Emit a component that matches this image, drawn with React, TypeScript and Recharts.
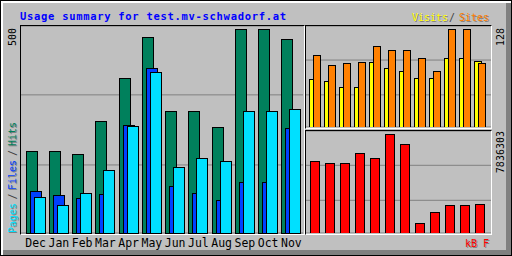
import { BarChart, Bar, XAxis, YAxis, CartesianGrid } from "recharts";

const months = ["Dec", "Jan", "Feb", "Mar", "Apr", "May", "Jun", "Jul", "Aug", "Sep", "Oct", "Nov"];
const hits = [200, 200, 193, 274, 380, 480, 299, 299, 260, 500, 500, 475];
const files = [102, 92, 85, 95, 264, 404, 115, 97, 80, 124, 124, 256];
const pages = [88, 68, 97, 154, 262, 394, 161, 183, 176, 299, 299, 304];
const visits = [62, 60, 52, 51, 84, 77, 73, 63, 64, 89, 89, 85];
const sites = [94, 81, 83, 84, 105, 100, 100, 90, 73, 128, 128, 83];
const kbytes = [5692600, 5533800, 5533800, 6327800, 5930800, 7836303, 7042400, 770100, 1643500, 2199200, 2199200, 2278600];

const table = months.map((month, i) => ({
  month,
  hits: hits[i],
  files: files[i],
  pages: pages[i],
  visits: visits[i],
  sites: sites[i],
  kbytes: kbytes[i],
}));

const mono = "DejaVu Sans Mono";
const grid = "#808080";

const panel = (left: number, top: number, width: number, height: number) => ({
  position: "absolute" as const,
  left,
  top,
  width,
  height,
  boxSizing: "border-box" as const,
  borderTop: "1px solid #000",
  borderLeft: "1px solid #000",
  borderRight: "1px solid #fff",
  borderBottom: "1px solid #fff",
});

// text with the little grey drop shadow webalizer puts under legends
function Shadowed({ transform, children, fill, anchor }: any) {
  return (
    <g>
      <g transform="translate(1,1)">
        <text transform={transform} fill="#808080" textAnchor={anchor} fontFamily={mono} fontSize={10}>
          {children}
        </text>
      </g>
      <text transform={transform} fill={fill} textAnchor={anchor} fontFamily={mono} fontSize={10}>
        {children}
      </text>
    </g>
  );
}

export default function App() {
  return (
    <div
      style={{
        position: "absolute",
        left: 0,
        top: 0,
        width: 512,
        height: 256,
        boxSizing: "border-box",
        border: "1px solid #000",
        background: "#c0c0c0",
        boxShadow: "inset 2px 2px 0 #fff, inset -5px -5px 0 #808080",
        overflow: "hidden",
      }}
    >
      <div style={panel(19, 24, 285, 210)} />
      <div style={panel(304, 24, 187, 104)} />
      <div style={panel(304, 129, 187, 105)} />

      {/* hits / files / pages */}
      <div style={{ position: "absolute", left: 20, top: 25 }}>
        <BarChart width={282} height={229} data={table} margin={{ top: 0, right: 0, bottom: 0, left: 0 }} barSize={11} barGap={-7}>
          <CartesianGrid stroke={grid} vertical={false} />
          <XAxis
            dataKey="month"
            axisLine={false}
            tickLine={false}
            tickSize={0}
            tickMargin={6}
            height={22}
            interval={0}
            padding={{ left: 3, right: 0 }}
            tick={{ fill: "#000", fontSize: 11.5, fontFamily: mono }}
          />
          <YAxis hide domain={[0, 508]} ticks={[167, 339]} />
          <Bar dataKey="hits" fill="#00805c" stroke="#000" shapeRendering="crispEdges" isAnimationActive={false} />
          <Bar dataKey="files" fill="#0040ff" stroke="#000" shapeRendering="crispEdges" isAnimationActive={false} />
          <Bar dataKey="pages" fill="#00e0ff" stroke="#000" shapeRendering="crispEdges" isAnimationActive={false} />
        </BarChart>
      </div>

      {/* visits / sites */}
      <div style={{ position: "absolute", left: 305, top: 25 }}>
        <BarChart width={185} height={101} data={table} margin={{ top: 0, right: 0, bottom: 0, left: 0 }} barSize={7} barGap={-3}>
          <CartesianGrid stroke={grid} vertical={false} />
          <XAxis dataKey="month" hide padding={{ left: 1, right: 4 }} />
          <YAxis hide domain={[0, 132]} ticks={[42, 87.5]} />
          <Bar dataKey="visits" fill="#ffff00" stroke="#000" shapeRendering="crispEdges" isAnimationActive={false} />
          <Bar dataKey="sites" fill="#ff8000" stroke="#000" shapeRendering="crispEdges" isAnimationActive={false} />
        </BarChart>
      </div>

      {/* kbytes */}
      <div style={{ position: "absolute", left: 305, top: 130 }}>
        <BarChart width={185} height={102} data={table} margin={{ top: 0, right: 0, bottom: 0, left: 0 }} barSize={9}>
          <CartesianGrid stroke={grid} vertical={false} />
          <XAxis dataKey="month" hide padding={{ left: 1, right: 4 }} />
          <YAxis hide domain={[0, 8098000]} ticks={[2596000, 5375000]} />
          <Bar dataKey="kbytes" fill="#ff0000" stroke="#000" shapeRendering="crispEdges" isAnimationActive={false} />
        </BarChart>
      </div>

      <svg width={512} height={256} style={{ position: "absolute", left: -1, top: -1, pointerEvents: "none" }}>
        <text x={20} y={19.5} fill="#0000ff" fontFamily={mono} fontWeight="bold" fontSize={10.5} letterSpacing={0.7}>
          Usage summary for test.mv-schwadorf.at
        </text>

        <Shadowed transform="translate(412,20.5)" fill="#ffff00">Visits</Shadowed>
        <text x={449} y={20.5} fill="#404040" fontFamily={mono} fontSize={10}>/</text>
        <Shadowed transform="translate(459,20.5)" fill="#ff8000">Sites</Shadowed>

        <text transform="translate(16,28) rotate(-90)" textAnchor="end" fill="#000" fontFamily={mono} fontSize={10}>500</text>
        <text transform="translate(503.5,28) rotate(-90)" textAnchor="end" fill="#000" fontFamily={mono} fontSize={10}>128</text>
        <text transform="translate(504,131) rotate(-90)" textAnchor="end" fill="#000" fontFamily={mono} fontSize={10}>7836303</text>

        <Shadowed transform="translate(16,203) rotate(-90)" anchor="end" fill="#00e0ff">Pages</Shadowed>
        <text transform="translate(16,196.5) rotate(-90)" textAnchor="middle" fill="#404040" fontFamily={mono} fontSize={10}>/</text>
        <Shadowed transform="translate(16,160) rotate(-90)" anchor="end" fill="#0040ff">Files</Shadowed>
        <text transform="translate(16,153) rotate(-90)" textAnchor="middle" fill="#404040" fontFamily={mono} fontSize={10}>/</text>
        <Shadowed transform="translate(16,122) rotate(-90)" anchor="end" fill="#00805c">Hits</Shadowed>

        <Shadowed transform="translate(465,246.5)" fill="#ff0000">kB F</Shadowed>
      </svg>
    </div>
  );
}
